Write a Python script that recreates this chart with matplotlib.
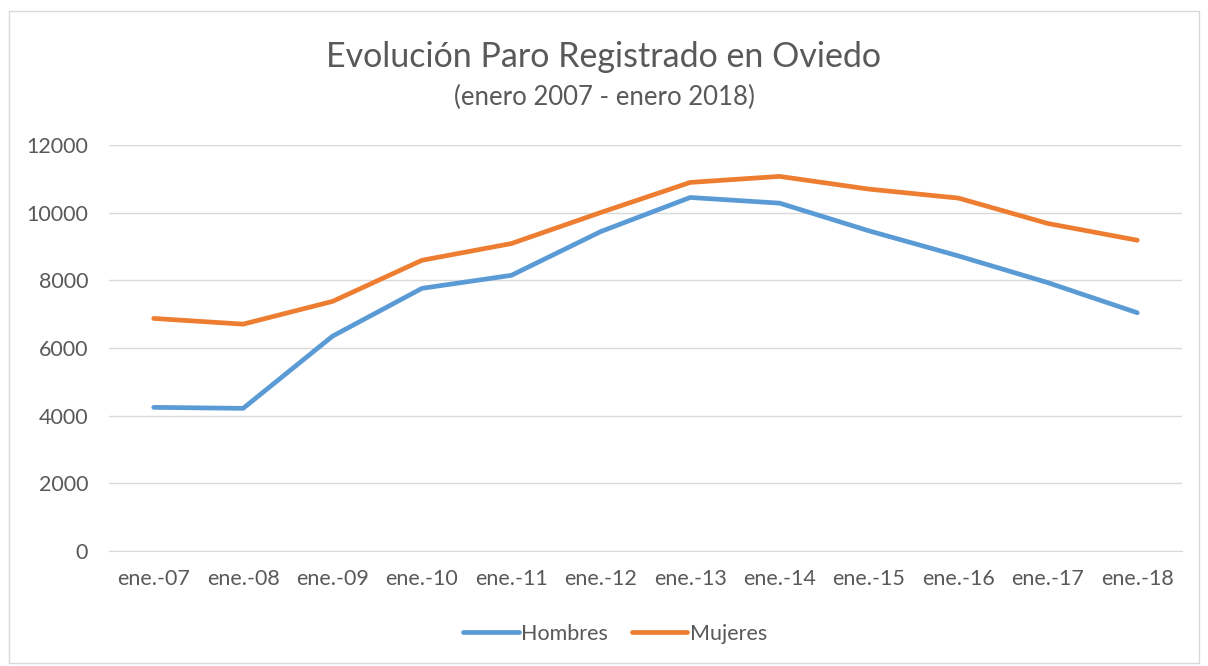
import matplotlib.pyplot as plt
from matplotlib.patches import Rectangle

# Paro registrado en Oviedo (enero de cada año)
meses = ['ene.-07', 'ene.-08', 'ene.-09', 'ene.-10', 'ene.-11', 'ene.-12',
         'ene.-13', 'ene.-14', 'ene.-15', 'ene.-16', 'ene.-17', 'ene.-18']
hombres = [4246, 4216, 6350, 7763, 8148, 9442, 10449, 10281, 9462, 8721, 7931, 7042]
mujeres = [6874, 6705, 7378, 8593, 9087, 10005, 10894, 11072, 10696, 10430, 9680, 9185]

texto = '#595959'
plt.rcParams['font.family'] = ['Lato', 'DejaVu Sans']

fig = plt.figure(figsize=(12.08, 6.66), dpi=100)
ax = fig.add_axes([109 / 1208, 1 - 551 / 666, (1182 - 109) / 1208, (551 - 145) / 666])

# marco del gráfico
fig.patches.append(Rectangle((9 / 1208, 3 / 666), 1190 / 1208, 652 / 666,
                             transform=fig.transFigure, fill=False,
                             edgecolor='#D9D9D9', linewidth=1))

x = range(len(meses))
ax.plot(x, hombres, color='#5B9BD5', linewidth=3.4, solid_capstyle='round',
        solid_joinstyle='round', label='Hombres')
ax.plot(x, mujeres, color='#ED7D31', linewidth=3.4, solid_capstyle='round',
        solid_joinstyle='round', label='Mujeres')

ax.set_xlim(-0.5, len(meses) - 0.5)
ax.set_ylim(0, 12000)
ax.set_yticks(range(0, 12001, 2000))
ax.set_xticks(list(x))
ax.set_xticklabels(meses)
ax.tick_params(axis='both', length=0, labelsize=15.5, labelcolor=texto)
ax.tick_params(axis='x', pad=13)
ax.tick_params(axis='y', pad=15)
ax.grid(axis='y', color='#D9D9D9', linewidth=1)
ax.set_axisbelow(True)
for s in ['top', 'right', 'left']:
    ax.spines[s].set_visible(False)
ax.spines['bottom'].set_color('#D9D9D9')

fig.text(0.5, 1 - 57 / 666, 'Evolución Paro Registrado en Oviedo', ha='center',
         va='center', fontsize=24.5, color=texto)
fig.text(0.5, 1 - 97 / 666, '(enero 2007 - enero 2018)', ha='center',
         va='center', fontsize=18.5, color=texto)

fig.legend(loc='center', bbox_to_anchor=(0.509, 1 - 634 / 666), ncol=2,
           frameon=False, fontsize=15.5, labelcolor=texto, handlelength=2.6,
           handletextpad=0.1, columnspacing=1.1)

fig.savefig('out.png', dpi=100, facecolor='white')
